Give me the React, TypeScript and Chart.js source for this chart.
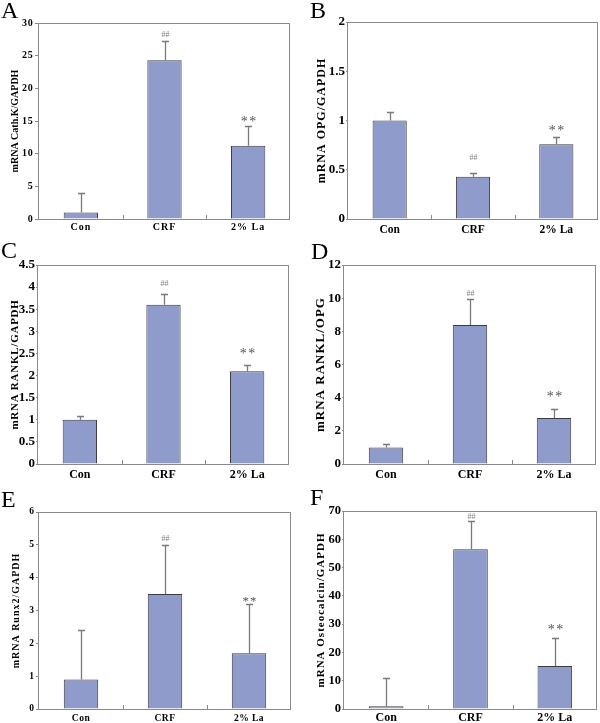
import React, { useEffect, useRef } from 'react';
import { Chart, registerables } from 'chart.js';

Chart.register(...registerables);

// ---------- data ----------
const categories = ['Con', 'CRF', '2% La'];
const markers = ['', '##', '**'];

const cathKMeans = [1.0, 24.3, 11.2];
const cathKErrors = [3.0, 3.0, 3.0];

const opgMeans = [1.0, 0.43, 0.76];
const opgErrors = [0.09, 0.04, 0.07];

const rankLMeans = [1.0, 3.6, 2.1];
const rankLErrors = [0.08, 0.24, 0.14];

const rankLOpgMeans = [1.0, 8.38, 2.77];
const rankLOpgErrors = [0.2, 1.55, 0.53];

const runx2Means = [0.9, 3.5, 1.7];
const runx2Errors = [1.5, 1.5, 1.5];

const osteocalcinMeans = [1.0, 56.5, 15.2];
const osteocalcinErrors = [10, 10, 10];

const panelLetters = ['A', 'B', 'C', 'D', 'E', 'F'];
const yTitles = [
  'mRNA Cath.K/GAPDH',
  'mRNA OPG/GAPDH',
  'mRNA RANKL/GAPDH',
  'mRNA RANKL/OPG',
  'mRNA Runx2/GAPDH',
  'mRNA Osteocalcin/GAPDH',
];
const yMaxes = [30, 2, 4.5, 12, 6, 70];
const ySteps = [5, 0.5, 0.5, 2, 1, 10];

const seriesMeans = [cathKMeans, opgMeans, rankLMeans, rankLOpgMeans, runx2Means, osteocalcinMeans];
const seriesErrors = [cathKErrors, opgErrors, rankLErrors, rankLOpgErrors, runx2Errors, osteocalcinErrors];

// ---------- styling ----------
const SERIF = '"Liberation Serif", "Times New Roman", serif';
const BAR = '#8f9bcb';
const EDGE = '#3c3c3c';
const FRAME = '#8a8a8a';
const ERR = '#7a7a7a';

type Look = {
  left: number; top: number; w: number; h: number;
  l: number; r: number; t: number; b: number;
  tickSize: number; tickSp: number; tickLen: number; tickPad: number;
  xSize: number; xSp: number; xCenter: number;
  titleSize: number; titleSp: number; titleX: number;
  letterX: number; letterY: number;
  hashSize: number; hashOff: number; starSize: number; starSp: number; starOff: number;
};

const looks: Look[] = [
  { left: 0, top: 0, w: 300, h: 240, l: 39, r: 290, t: 23, b: 219,
    tickSize: 10, tickSp: 0.8, tickLen: 4, tickPad: 1.5, xSize: 10, xSp: 1, xCenter: 8.5,
    titleSize: 10, titleSp: 0, titleX: 15, letterX: 1, letterY: 18,
    hashSize: 8, hashOff: 7, starSize: 14, starSp: 1.5, starOff: 7 },
  { left: 300, top: 0, w: 300, h: 240, l: 48, r: 298, t: 22, b: 219,
    tickSize: 13, tickSp: 0, tickLen: 2, tickPad: 1, xSize: 11.5, xSp: 0, xCenter: 10.7,
    titleSize: 12, titleSp: 1, titleX: 21.7, letterX: 10, letterY: 18,
    hashSize: 8, hashOff: 16, starSize: 14, starSp: 1.5, starOff: 9 },
  { left: 0, top: 240, w: 300, h: 240, l: 38, r: 289, t: 25, b: 224,
    tickSize: 13, tickSp: 0, tickLen: 2, tickPad: 1, xSize: 12, xSp: 0, xCenter: 11,
    titleSize: 11, titleSp: 0.75, titleX: 15, letterX: 1, letterY: 18,
    hashSize: 8, hashOff: 11, starSize: 14, starSp: 1.5, starOff: 14 },
  { left: 300, top: 240, w: 300, h: 240, l: 44, r: 296, t: 25, b: 224,
    tickSize: 13, tickSp: 0, tickLen: 2, tickPad: 1, xSize: 12, xSp: 0, xCenter: 11,
    titleSize: 13, titleSp: 1, titleX: 20.7, letterX: 11, letterY: 19,
    hashSize: 8, hashOff: 6, starSize: 14, starSp: 1.5, starOff: 15 },
  { left: 0, top: 480, w: 300, h: 243, l: 39, r: 291, t: 32, b: 229,
    tickSize: 9.5, tickSp: 0.5, tickLen: 3, tickPad: 1.5, xSize: 9.5, xSp: 0.5, xCenter: 9.7,
    titleSize: 10, titleSp: 1, titleX: 16.7, letterX: 1, letterY: 27,
    hashSize: 8, hashOff: 7, starSize: 13, starSp: 1, starOff: 6 },
  { left: 300, top: 480, w: 300, h: 243, l: 44, r: 297, t: 31, b: 229,
    tickSize: 12.5, tickSp: 0, tickLen: 2, tickPad: 1, xSize: 12, xSp: 0, xCenter: 9.4,
    titleSize: 11, titleSp: 1, titleX: 20.7, letterX: 10, letterY: 25,
    hashSize: 8, hashOff: 5, starSize: 14, starSp: 1.5, starOff: 11 },
];

function withSpacing(scale: any, name: string, sp: number) {
  if (!sp) return;
  const orig = scale[name];
  scale[name] = function (...args: any[]) {
    const c = this.ctx;
    const prev = c.letterSpacing;
    c.letterSpacing = sp + 'px';
    orig.apply(this, args);
    c.letterSpacing = prev || '0px';
  };
}

function Panel({ idx }: { idx: number }) {
  const ref = useRef<HTMLCanvasElement>(null);
  const L = looks[idx];

  useEffect(() => {
    if (!ref.current) return;
    const means = seriesMeans[idx];
    const errs = seriesErrors[idx];
    const patched = new WeakSet<object>();
    const font = (size: number) => ({ family: SERIF, size, weight: 'bold' as const });

    const spacingPlugin = {
      id: 'spacing' + idx,
      afterLayout(chart: any) {
        const ys = chart.scales.y;
        const xs = chart.scales.x;
        if (ys && !patched.has(ys)) {
          patched.add(ys);
          withSpacing(ys, 'drawTitle', L.titleSp);
          withSpacing(ys, 'drawLabels', L.tickSp);
        }
        if (xs && !patched.has(xs)) {
          patched.add(xs);
          withSpacing(xs, 'drawLabels', L.xSp);
        }
      },
    };

    const overlayPlugin = {
      id: 'overlay' + idx,
      afterDatasetsDraw(chart: any) {
        const ctx = chart.ctx as CanvasRenderingContext2D;
        const { left, right, top, bottom } = chart.chartArea;
        const xs = chart.scales.x;
        const ys = chart.scales.y;
        ctx.save();
        // frame
        ctx.strokeStyle = FRAME;
        ctx.lineWidth = 1;
        ctx.strokeRect(Math.round(left) - 0.5, Math.round(top) + 0.5, Math.round(right - left), Math.round(bottom - top));
        // inner ticks between categories
        for (let i = 0; i < categories.length - 1; i++) {
          const px = Math.round((xs.getPixelForValue(i) + xs.getPixelForValue(i + 1)) / 2) + 0.5;
          ctx.beginPath();
          ctx.moveTo(px, bottom);
          ctx.lineTo(px, bottom - 4);
          ctx.stroke();
        }
        // error bars and markers
        const meta = chart.getDatasetMeta(0);
        meta.data.forEach((bar: any, i: number) => {
          const x = Math.round(bar.x) + 0.5;
          const y0 = ys.getPixelForValue(means[i]);
          const y1 = Math.round(ys.getPixelForValue(means[i] + errs[i])) + 0.5;
          ctx.strokeStyle = ERR;
          ctx.lineWidth = 1.3;
          ctx.beginPath();
          ctx.moveTo(x, y0);
          ctx.lineTo(x, y1);
          ctx.moveTo(x - 3.5, y1);
          ctx.lineTo(x + 3.5, y1);
          ctx.stroke();
          const mk = markers[i];
          if (mk === '##') {
            ctx.font = `${L.hashSize}px ${SERIF}`;
            ctx.fillStyle = '#808080';
            ctx.textAlign = 'center';
            ctx.textBaseline = 'alphabetic';
            ctx.fillText(mk, x, y1 - L.hashOff + 0.34 * L.hashSize);
          } else if (mk === '**') {
            ctx.font = `${L.starSize}px ${SERIF}`;
            ctx.fillStyle = '#555555';
            ctx.textAlign = 'center';
            ctx.textBaseline = 'alphabetic';
            (ctx as any).letterSpacing = L.starSp + 'px';
            ctx.fillText(mk, x + L.starSp / 2, y1 - L.starOff + 0.47 * L.starSize);
            (ctx as any).letterSpacing = '0px';
          }
        });
        ctx.restore();
      },
      afterDraw(chart: any) {
        const ctx = chart.ctx as CanvasRenderingContext2D;
        ctx.save();
        ctx.font = `24px ${SERIF}`;
        ctx.fillStyle = '#000';
        ctx.textAlign = 'left';
        ctx.textBaseline = 'alphabetic';
        ctx.fillText(panelLetters[idx], L.letterX, L.letterY);
        ctx.restore();
      },
    };

    const chart = new Chart(ref.current, {
      type: 'bar',
      data: {
        labels: categories,
        datasets: [
          {
            data: means,
            backgroundColor: BAR,
            borderColor: EDGE,
            borderWidth: 1,
            barPercentage: 0.41,
            categoryPercentage: 1,
          },
        ],
      },
      options: {
        responsive: false,
        animation: false,
        events: [],
        layout: { padding: { top: L.t, right: L.w - L.r, left: 0, bottom: 0 } },
        plugins: { legend: { display: false }, tooltip: { enabled: false }, title: { display: false } },
        scales: {
          x: {
            grid: { display: true, drawOnChartArea: false, drawTicks: false },
            border: { display: false },
            ticks: {
              font: font(L.xSize),
              color: '#000',
              padding: L.xCenter - 0.6 * L.xSize,
              maxRotation: 0,
              autoSkip: false,
            },
            afterFit: (s: any) => { s.height = L.h - L.b; },
          },
          y: {
            min: 0,
            max: yMaxes[idx],
            ticks: {
              stepSize: ySteps[idx],
              font: font(L.tickSize),
              color: '#000',
              padding: L.tickPad,
              callback: (v: any) => String(Math.round(Number(v) * 100) / 100),
            },
            grid: { drawOnChartArea: false, drawTicks: true, tickLength: L.tickLen, color: FRAME },
            border: { display: false },
            title: {
              display: true,
              text: yTitles[idx],
              font: font(L.titleSize),
              color: '#000',
              padding: { top: L.titleX - 0.6 * L.titleSize, bottom: 0 },
            },
            afterFit: (s: any) => { s.width = L.l; },
          },
        },
      },
      plugins: [spacingPlugin, overlayPlugin],
    } as any);
    return () => chart.destroy();
  }, [idx]);

  return (
    <canvas
      ref={ref}
      width={L.w}
      height={L.h}
      style={{ position: 'absolute', left: L.left, top: L.top, width: L.w, height: L.h }}
    />
  );
}

export default function App() {
  return (
    <div style={{ position: 'fixed', left: 0, top: 0, width: 600, height: 723, background: '#fff', overflow: 'hidden' }}>
      {panelLetters.map((_, i) => (
        <Panel key={i} idx={i} />
      ))}
    </div>
  );
}
